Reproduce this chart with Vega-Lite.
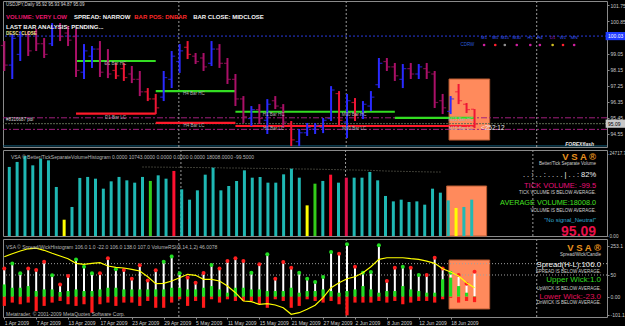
{
"$schema":"https://vega.github.io/schema/vega-lite/v6.json",
"background":"#000000",
"padding":0,
"spacing":3,
"bounds":"flush",
"config":{"view":{"stroke":"#8a8a8a","strokeWidth":1,"fill":"#000000"},"font":"Liberation Sans","axis":{"grid":false,"domain":false,"labelColor":"#c8c8c8","labelFontSize":5,"tickColor":"#8a8a8a","tickSize":2,"labelPadding":1}},
"resolve":{"scale":{"x":"independent","y":"independent","color":"independent","strokeDash":"independent"}},
"datasets":{"bars":[
{"i":0,"o":99.5,"h":99.75,"l":98.07,"c":98.4,"d":"dn","v":20720,"vc":"n","s":120,"u":52,"w":-39,"dc":"r","r":169.5},
{"i":1,"o":98.4,"h":100.15,"l":97.62,"c":99.9,"d":"up","v":22220,"vc":"n","s":141,"u":38,"w":-25,"dc":"g","r":182},
{"i":2,"o":99.0,"h":100.31,"l":98.63,"c":100.1,"d":"up","v":24020,"vc":"n","s":99,"u":38,"w":-32,"dc":"g","r":193.6},
{"i":3,"o":100.1,"h":100.31,"l":98.91,"c":99.2,"d":"dn","v":21200,"vc":"n","s":119,"u":45,"w":-25,"dc":"r","r":203},
{"i":4,"o":100.2,"h":100.43,"l":99.19,"c":99.6,"d":"dn","v":23210,"vc":"n","s":113,"u":24,"w":-61,"dc":"r","r":206},
{"i":5,"o":99.6,"h":99.92,"l":98.8,"c":99.0,"d":"dn","v":22700,"vc":"n","s":148,"u":31,"w":-39,"dc":"r","r":196.6},
{"i":6,"o":99.6,"h":100.76,"l":99.47,"c":100.5,"d":"up","v":14710,"vc":"n","s":91,"u":31,"w":-25,"dc":"g","r":184},
{"i":7,"o":100.5,"h":100.76,"l":99.75,"c":100.0,"d":"dn","v":4890,"vc":"y","s":52,"u":20,"w":-18,"dc":"r","r":172.5},
{"i":8,"o":100.2,"h":100.6,"l":99.47,"c":99.8,"d":"dn","v":8710,"vc":"n","s":88,"u":24,"w":-32,"dc":"r","r":161},
{"i":9,"o":100.0,"h":100.43,"l":97.73,"c":98.1,"d":"dn","v":17420,"vc":"n","s":158,"u":31,"w":-39,"dc":"g","r":141.5},
{"i":10,"o":98.0,"h":99.58,"l":97.62,"c":99.2,"d":"up","v":17720,"vc":"n","s":127,"u":24,"w":-32,"dc":"g","r":137.3},
{"i":11,"o":98.9,"h":99.47,"l":98.24,"c":99.3,"d":"up","v":17200,"vc":"n","s":99,"u":24,"w":-68,"dc":"g","r":141.5},
{"i":12,"o":99.3,"h":99.75,"l":97.73,"c":98.0,"d":"dn","v":14200,"vc":"n","s":99,"u":31,"w":-32,"dc":"r","r":144},
{"i":13,"o":98.5,"h":99.3,"l":97.67,"c":97.9,"d":"dn","v":16400,"vc":"n","s":163,"u":38,"w":-25,"dc":"r","r":130},
{"i":14,"o":98.1,"h":98.52,"l":97.62,"c":97.8,"d":"rd","v":17720,"vc":"n","s":116,"u":38,"w":-39,"dc":"g","r":124.6},
{"i":15,"o":98.2,"h":98.52,"l":97.51,"c":97.7,"d":"rd","v":16700,"vc":"n","s":113,"u":31,"w":-25,"dc":"r","r":121.6},
{"i":16,"o":97.9,"h":98.35,"l":97.39,"c":97.6,"d":"dn","v":16000,"vc":"n","s":76,"u":31,"w":-25,"dc":"r","r":116},
{"i":17,"o":97.6,"h":98.07,"l":96.66,"c":96.9,"d":"dn","v":17720,"vc":"n","s":133,"u":31,"w":-39,"dc":"r","r":109,"ma":20700},
{"i":18,"o":96.9,"h":97.11,"l":96.38,"c":96.5,"d":"rd","v":16520,"vc":"g","s":69,"u":31,"w":-18,"dc":"r","r":84.7,"ma":20700},
{"i":19,"o":96.5,"h":96.78,"l":95.65,"c":96.0,"d":"rd","v":18200,"vc":"n","s":112,"u":31,"w":-47,"dc":"r","r":55,"ma":20650},
{"i":20,"o":96.6,"h":98.07,"l":96.38,"c":97.7,"d":"up","v":17200,"vc":"n","s":148,"u":31,"w":-47,"dc":"g","r":56.8,"ma":20650},
{"i":21,"o":97.6,"h":99.19,"l":97.11,"c":98.9,"d":"up","v":19520,"vc":"r","s":170,"u":38,"w":-25,"dc":"g","r":66.5,"ma":20600},
{"i":22,"o":98.6,"h":99.58,"l":97.96,"c":99.2,"d":"up","v":14000,"vc":"n","s":99,"u":38,"w":-11,"dc":"g","r":80.5,"ma":20600},
{"i":23,"o":99.4,"h":99.75,"l":98.74,"c":99.0,"d":"rd","v":10900,"vc":"n","s":81,"u":31,"w":-39,"dc":"r","r":95,"ma":20550},
{"i":24,"o":98.9,"h":99.08,"l":98.46,"c":98.6,"d":"dn","v":13700,"vc":"n","s":59,"u":31,"w":-18,"dc":"r","r":90.7,"ma":20550},
{"i":25,"o":98.8,"h":99.08,"l":98.07,"c":98.3,"d":"dn","v":18400,"vc":"n","s":100,"u":38,"w":-47,"dc":"r","r":73.7,"ma":20500},
{"i":26,"o":98.5,"h":99.75,"l":98.35,"c":99.3,"d":"up","v":20500,"vc":"n","s":134,"u":45,"w":-11,"dc":"g","r":73.7,"ma":20500},
{"i":27,"o":99.3,"h":99.58,"l":98.24,"c":98.5,"d":"dn","v":13700,"vc":"n","s":120,"u":31,"w":-25,"dc":"r","r":66.5,"ma":20450},
{"i":28,"o":98.5,"h":98.8,"l":97.34,"c":97.6,"d":"dn","v":15000,"vc":"n","s":151,"u":17,"w":-11,"dc":"r","r":45.3,"ma":20400},
{"i":29,"o":97.6,"h":97.9,"l":96.1,"c":96.5,"d":"dn","v":16500,"vc":"n","s":163,"u":38,"w":-18,"dc":"r","r":17,"ma":20400},
{"i":30,"o":96.5,"h":96.66,"l":95.15,"c":95.5,"d":"dn","v":19700,"vc":"n","s":151,"u":38,"w":-18,"dc":"r","r":-18.2,"ma":20350},
{"i":31,"o":95.4,"h":96.1,"l":94.98,"c":95.9,"d":"up","v":17500,"vc":"n","s":102,"u":31,"w":-18,"dc":"g","r":-21.2,"ma":20300},
{"i":32,"o":95.9,"h":96.21,"l":95.09,"c":95.4,"d":"dn","v":17720,"vc":"n","s":137,"u":31,"w":-32,"dc":"r","r":-32.2,"ma":20300},
{"i":33,"o":95.3,"h":96.49,"l":94.53,"c":96.2,"d":"up","v":16000,"vc":"n","s":180,"u":24,"w":-47,"dc":"g","r":-29.7,"ma":20250},
{"i":34,"o":96.4,"h":96.66,"l":95.93,"c":96.1,"d":"dn","v":16000,"vc":"n","s":76,"u":24,"w":-11,"dc":"r","r":-35.2,"ma":20200},
{"i":35,"o":96.0,"h":96.21,"l":94.87,"c":95.2,"d":"dn","v":18500,"vc":"n","s":147,"u":24,"w":-18,"dc":"r","r":-46.6,"ma":20200},
{"i":36,"o":95.1,"h":95.26,"l":93.85,"c":94.2,"d":"rd","v":20200,"vc":"n","s":123,"u":38,"w":-47,"dc":"r","r":-74.6,"ma":20150},
{"i":37,"o":94.1,"h":94.81,"l":93.85,"c":94.6,"d":"up","v":17500,"vc":"n","s":102,"u":17,"w":-39,"dc":"g","r":-67.8,"ma":20100},
{"i":38,"o":94.6,"h":95.15,"l":94.42,"c":94.9,"d":"up","v":9190,"vc":"y","s":76,"u":24,"w":-11,"dc":"g","r":-53.4,"ma":20100},
{"i":39,"o":94.8,"h":95.15,"l":94.53,"c":95.0,"d":"up","v":15700,"vc":"g","s":62,"u":24,"w":-18,"dc":"g","r":-36.4,"ma":20050},
{"i":40,"o":94.9,"h":95.43,"l":94.58,"c":95.3,"d":"up","v":16520,"vc":"n","s":83,"u":31,"w":-25,"dc":"g","r":-4.2,"ma":20000},
{"i":41,"o":95.4,"h":97.22,"l":95.26,"c":97.0,"d":"up","v":18400,"vc":"r","s":189,"u":24,"w":-18,"dc":"g","r":38,"ma":19950},
{"i":42,"o":96.8,"h":96.94,"l":94.98,"c":95.3,"d":"rd","v":16000,"vc":"n","s":182,"u":17,"w":-32,"dc":"r","r":59.3,"ma":19900},
{"i":43,"o":95.2,"h":96.78,"l":94.3,"c":96.4,"d":"up","v":17500,"vc":"m","s":222,"u":24,"w":-79,"dc":"g","r":76.3,"ma":19850},
{"i":44,"o":96.3,"h":96.55,"l":95.26,"c":95.6,"d":"rd","v":17500,"vc":"n","s":127,"u":31,"w":-25,"dc":"r","r":84.7,"ma":19800},
{"i":45,"o":95.6,"h":96.38,"l":95.37,"c":96.2,"d":"up","v":17500,"vc":"n","s":102,"u":45,"w":-25,"dc":"g","r":101.7,"ma":19750},
{"i":46,"o":96.1,"h":96.94,"l":95.82,"c":96.6,"d":"up","v":19220,"vc":"n","s":105,"u":31,"w":-25,"dc":"g","r":127,"ma":19700},
{"i":47,"o":97.3,"h":98.8,"l":97.11,"c":98.5,"d":"up","v":16700,"vc":"n","s":218,"u":17,"w":-18,"dc":"g","r":158.5,"ma":19600},
{"i":48,"o":98.6,"h":98.8,"l":98.07,"c":98.3,"d":"dn","v":12010,"vc":"n","s":67,"u":24,"w":-25,"dc":"r","r":165,"ma":19500},
{"i":49,"o":98.3,"h":98.52,"l":97.51,"c":97.8,"d":"dn","v":10390,"vc":"n","s":123,"u":24,"w":-18,"dc":"r","r":165,"ma":19450},
{"i":50,"o":97.6,"h":98.46,"l":97.11,"c":98.2,"d":"up","v":10900,"vc":"n","s":127,"u":45,"w":-32,"dc":"g","r":165,"ma":19400},
{"i":51,"o":98.2,"h":98.52,"l":97.62,"c":97.9,"d":"dn","v":10210,"vc":"n","s":123,"u":31,"w":-25,"dc":"r","r":161,"ma":19350},
{"i":52,"o":97.9,"h":98.46,"l":97.62,"c":98.3,"d":"up","v":10390,"vc":"n","s":92,"u":24,"w":-18,"dc":"g","r":158.5,"ma":19300},
{"i":53,"o":98.2,"h":98.52,"l":97.62,"c":98.0,"d":"dn","v":9400,"vc":"n","s":92,"u":17,"w":-18,"dc":"r","r":151,"ma":19250},
{"i":54,"o":97.9,"h":98.07,"l":95.99,"c":96.3,"d":"dn","v":14200,"vc":"n","s":165,"u":17,"w":-25,"dc":"r","r":141.5,"ma":19200},
{"i":55,"o":96.4,"h":96.78,"l":95.65,"c":96.0,"d":"dn","v":13000,"vc":"n","s":120,"u":74,"w":-11,"dc":"r","r":118.6,"ma":19200},
{"i":56,"o":95.8,"h":96.66,"l":95.65,"c":96.5,"d":"up","v":10690,"vc":"n","s":102,"u":81,"w":-5,"dc":"g","r":104.7},
{"i":57,"o":96.9,"h":97.34,"l":96.21,"c":96.4,"d":"rd","v":8410,"vc":"y","s":92,"u":45,"w":-25,"dc":"r","r":87.7},
{"i":58,"o":96.2,"h":96.27,"l":95.71,"c":95.9,"d":"rd","v":8710,"vc":"n","s":55,"u":17,"w":-18,"dc":"r","r":59.3},
{"i":59,"o":95.92,"h":95.93,"l":94.87,"c":95.09,"d":"rd","v":10900,"vc":"n","s":106,"u":2,"w":-23,"dc":"r","r":38}
]},
"vconcat":[
{"width":604,"height":146,"resolve":{"scale":{"color":"independent","strokeDash":"independent"},"axis":{"x":"independent","y":"independent"}},
"layer":[
{"data":{"values":[{}]},"mark":{"type":"rect","fill":"#ff8a5c","stroke":"#b85a30","strokeWidth":1},"encoding":{"x":{"datum":55.8,"type":"quantitative","scale":{"domain":[-0.163,75.62],"nice":false,"zero":false},"axis":null},"x2":{"datum":60.9},"y":{"datum":97.62,"type":"quantitative","scale":{"domain":[93.8,102],"nice":false,"zero":false},"axis":null},"y2":{"datum":94.19}}},
{"data":{"values":[{"k":"pd","p":95.44},{"k":"pd","p":94.79},{"k":"bid","p":95.11},{"k":"blue","p":100.03},{"k":"teal","p":93.86}]},"mark":{"type":"rule","strokeWidth":1},"encoding":{"y":{"field":"p","type":"quantitative","scale":{"domain":[93.8,102],"nice":false,"zero":false},"axis":null},"color":{"field":"k","type":"nominal","scale":{"domain":["pd","bid","blue","teal"],"range":["#a0207c","#5c6a52","#2a3ae0","#14607e"]},"legend":null},"strokeDash":{"field":"k","type":"nominal","scale":{"domain":["pd","bid","blue","teal"],"range":[[6,2,2,2],[2,1],[2,2],[1,0]]},"legend":null}}},
{"data":{"values":[{"x":21.9},{"x":42.9},{"x":66.8}]},"mark":{"type":"rule","color":"#9a9a9a","strokeDash":[2,2],"strokeWidth":1},"encoding":{"x":{"field":"x","type":"quantitative","scale":{"domain":[-0.163,75.62],"nice":false,"zero":false},"axis":null}}},
{"data":{"values":[{"k":"hc","a":9,"b":19,"p":98.63},{"k":"lc","a":9,"b":19,"p":95.67},{"k":"hc","a":19,"b":29,"p":96.94},{"k":"lc","a":19,"b":29,"p":95.16},{"k":"hc","a":29,"b":49,"p":95.78},{"k":"lc","a":29,"b":59,"p":94.98},{"k":"hc","a":49,"b":59,"p":95.44}]},"mark":{"type":"rule","strokeWidth":2.2},"encoding":{"x":{"field":"a","type":"quantitative","scale":{"domain":[-0.163,75.62],"nice":false,"zero":false},"axis":null},"x2":{"field":"b"},"y":{"field":"p","type":"quantitative","scale":{"domain":[93.8,102],"nice":false,"zero":false},"axis":null},"color":{"field":"k","type":"nominal","scale":{"domain":["hc","lc"],"range":["#33dd22","#ff1a2a"]},"legend":null}}},
{"data":{"name":"bars"},"mark":{"type":"rule","strokeWidth":2},"encoding":{"x":{"field":"i","type":"quantitative","scale":{"domain":[-0.163,75.62],"nice":false,"zero":false},"axis":null},"y":{"field":"l","type":"quantitative","scale":{"domain":[93.8,102],"nice":false,"zero":false},"axis":{"orient":"right","values":[101.75,100.85,99.05,98.15,97.25,96.35,95.45,94.55],"format":".2f","labelFontSize":5,"tickSize":2,"labelPadding":1,"labelColor":"#c8c8c8","tickColor":"#8a8a8a","domain":false,"grid":false,"title":null}},"y2":{"field":"h"},"color":{"field":"d","type":"nominal","scale":{"domain":["up","dn","rd"],"range":["#2a2aff","#aa1068","#ee1535"]},"legend":null}}},
{"data":{"name":"bars"},"mark":{"type":"tick","orient":"horizontal","size":3,"thickness":1.2,"xOffset":-2},"encoding":{"x":{"field":"i","type":"quantitative","scale":{"domain":[-0.163,75.62],"nice":false,"zero":false},"axis":null},"y":{"field":"o","type":"quantitative","scale":{"domain":[93.8,102],"nice":false,"zero":false},"axis":null},"color":{"field":"d","type":"nominal","scale":{"domain":["up","dn","rd"],"range":["#2a2aff","#aa1068","#ee1535"]},"legend":null}}},
{"data":{"name":"bars"},"mark":{"type":"tick","orient":"horizontal","size":3,"thickness":1.2,"xOffset":2},"encoding":{"x":{"field":"i","type":"quantitative","scale":{"domain":[-0.163,75.62],"nice":false,"zero":false},"axis":null},"y":{"field":"c","type":"quantitative","scale":{"domain":[93.8,102],"nice":false,"zero":false},"axis":null},"color":{"field":"d","type":"nominal","scale":{"domain":["up","dn","rd"],"range":["#2a2aff","#aa1068","#ee1535"]},"legend":null}}},
{"data":{"values":[{"x":13.95,"y":98.44,"t":"D1 Bar HC"},{"x":13.95,"y":95.44,"t":"D1 Bar LC"},{"x":23.8,"y":96.76,"t":"H4 Bar HC"},{"x":23.8,"y":94.98,"t":"H4 Bar LC"},{"x":33.8,"y":95.6,"t":"H1 Bar HC"},{"x":33.8,"y":94.83,"t":"H1 Bar LC"},{"x":43.9,"y":95.6,"t":"M30 Bar HC"},{"x":43.9,"y":94.83,"t":"M30 Bar LC"},{"x":57.3,"y":95.3,"t":"M15 Bar HC"},{"x":57.3,"y":94.79,"t":"M15 Bar LC"}]},"mark":{"type":"text","fontSize":4.5,"color":"#b0b0b0","align":"center","baseline":"middle"},"encoding":{"x":{"field":"x","type":"quantitative","scale":{"domain":[-0.163,75.62],"nice":false,"zero":false},"axis":null},"y":{"field":"y","type":"quantitative","scale":{"domain":[93.8,102],"nice":false,"zero":false},"axis":null},"text":{"field":"t"}}},
{"data":{"values":[{"x":0.21,"y":101.78,"t":"USDJPY,Daily  95.92 95.93 94.87 95.09"},{"x":0.21,"y":95.3,"t":"#8316687 pdl"}]},"mark":{"type":"text","fontSize":4.5,"color":"#d8d8d8","align":"left","baseline":"middle"},"encoding":{"x":{"field":"x","type":"quantitative","scale":{"domain":[-0.163,75.62],"nice":false,"zero":false},"axis":null},"y":{"field":"y","type":"quantitative","scale":{"domain":[93.8,102],"nice":false,"zero":false},"axis":null},"text":{"field":"t"}}},
{"data":{"values":[{"x":0.21,"y":101.1,"t":"VOLUME: VERY LOW","s":"m"},{"x":8.75,"y":101.1,"t":"SPREAD: NARROW","s":"w"},{"x":16.3,"y":101.1,"t":"BAR POS: DNBAR","s":"r"},{"x":23.7,"y":101.1,"t":"BAR CLOSE: MIDCLOSE","s":"w"},{"x":0.21,"y":100.54,"t":"LAST BAR ANALYSIS: PENDING...","s":"w"}]},"mark":{"type":"text","fontSize":6,"fontWeight":"bold","align":"left","baseline":"middle"},"encoding":{"x":{"field":"x","type":"quantitative","scale":{"domain":[-0.163,75.62],"nice":false,"zero":false},"axis":null},"y":{"field":"y","type":"quantitative","scale":{"domain":[93.8,102],"nice":false,"zero":false},"axis":null},"text":{"field":"t"},"color":{"field":"s","type":"nominal","scale":{"domain":["m","w","r"],"range":["#e8186e","#f4f4f4","#ff2a2a"]},"legend":null}}},
{"data":{"values":[{}]},"mark":{"type":"text","fontSize":4.5,"fontWeight":"bold","color":"#f0e890","align":"left","baseline":"middle","text":"DESC: CLOSE"},"encoding":{"x":{"datum":0.21,"type":"quantitative","scale":{"domain":[-0.163,75.62],"nice":false,"zero":false},"axis":null},"y":{"datum":100.15,"type":"quantitative","scale":{"domain":[93.8,102],"nice":false,"zero":false},"axis":null}}},
{"data":{"values":[{}]},"mark":{"type":"text","fontSize":6.5,"color":"#e8e8e8","align":"left","baseline":"middle","text":"<252:12"},"encoding":{"x":{"datum":59.8,"type":"quantitative","scale":{"domain":[-0.163,75.62],"nice":false,"zero":false},"axis":null},"y":{"datum":94.85,"type":"quantitative","scale":{"domain":[93.8,102],"nice":false,"zero":false},"axis":null}}},
{"data":{"values":[{"x":60.2,"t":"M1","s":"b"},{"x":61.6,"t":"M5","s":"b"},{"x":62.8,"t":"M15","s":"b"},{"x":64.3,"t":"M30","s":"b"},{"x":66.0,"t":"H1","s":"b"},{"x":67.2,"t":"H4","s":"b"},{"x":68.8,"t":"D1","s":"m"},{"x":70.1,"t":"W1","s":"b"},{"x":71.5,"t":"MN","s":"b"}]},"mark":{"type":"text","fontSize":4.3,"align":"center","baseline":"middle"},"encoding":{"x":{"field":"x","type":"quantitative","scale":{"domain":[-0.163,75.62],"nice":false,"zero":false},"axis":null},"y":{"datum":99.92,"type":"quantitative","scale":{"domain":[93.8,102],"nice":false,"zero":false},"axis":null},"text":{"field":"t"},"color":{"field":"s","type":"nominal","scale":{"domain":["b","m"],"range":["#3a5cff","#a020c0"]},"legend":null}}},
{"data":{"values":[{"x":60.2,"s":"m"},{"x":61.6,"s":"r"},{"x":62.8,"s":"g"},{"x":64.3,"s":"m"},{"x":66.0,"s":"m"},{"x":67.2,"s":"m"},{"x":68.8,"s":"y"},{"x":70.1,"s":"r"},{"x":71.5,"s":"m"}]},"mark":{"type":"point","filled":true,"size":7,"opacity":1},"encoding":{"x":{"field":"x","type":"quantitative","scale":{"domain":[-0.163,75.62],"nice":false,"zero":false},"axis":null},"y":{"datum":99.53,"type":"quantitative","scale":{"domain":[93.8,102],"nice":false,"zero":false},"axis":null},"color":{"field":"s","type":"nominal","scale":{"domain":["m","r","g","y"],"range":["#d020a0","#ff2030","#909090","#d0c020"]},"legend":null}}},
{"data":{"values":[{}]},"mark":{"type":"text","fontSize":4.5,"color":"#2a5ad8","align":"center","baseline":"middle","text":"CDRW"},"encoding":{"x":{"datum":58.1,"type":"quantitative","scale":{"domain":[-0.163,75.62],"nice":false,"zero":false},"axis":null},"y":{"datum":99.53,"type":"quantitative","scale":{"domain":[93.8,102],"nice":false,"zero":false},"axis":null}}},
{"data":{"values":[{}]},"mark":{"type":"text","fontSize":5,"fontStyle":"italic","fontWeight":"bold","color":"#e8e8e8","align":"right","baseline":"middle","text":"FOREXflash"},"encoding":{"x":{"datum":74.0,"type":"quantitative","scale":{"domain":[-0.163,75.62],"nice":false,"zero":false},"axis":null},"y":{"datum":93.97,"type":"quantitative","scale":{"domain":[93.8,102],"nice":false,"zero":false},"axis":null}}},
{"data":{"values":[{"k":"b","a":100.26,"b":99.8},{"k":"g","a":95.34,"b":94.88}]},"mark":{"type":"rect"},"encoding":{"x":{"datum":75.45,"type":"quantitative","scale":{"domain":[-0.163,75.62],"nice":false,"zero":false},"axis":null},"x2":{"datum":78.3},"y":{"field":"a","type":"quantitative","scale":{"domain":[93.8,102],"nice":false,"zero":false},"axis":null},"y2":{"field":"b"},"color":{"field":"k","type":"nominal","scale":{"domain":["b","g"],"range":["#1f3cff","#c8c8c8"]},"legend":null}}},
{"data":{"values":[{"k":"b","p":100.03,"t":"100.03"},{"k":"g","p":95.11,"t":"95.09"}]},"mark":{"type":"text","fontSize":5,"align":"left","baseline":"middle"},"encoding":{"x":{"datum":75.75,"type":"quantitative","scale":{"domain":[-0.163,75.62],"nice":false,"zero":false},"axis":null},"y":{"field":"p","type":"quantitative","scale":{"domain":[93.8,102],"nice":false,"zero":false},"axis":null},"text":{"field":"t"},"color":{"field":"k","type":"nominal","scale":{"domain":["b","g"],"range":["#ffffff","#000000"]},"legend":null}}}
]},
{"width":604,"height":86,"resolve":{"scale":{"color":"independent"},"axis":{"x":"independent","y":"independent"}},
"layer":[
{"data":{"values":[{}]},"mark":{"type":"rect","fill":"#ff8a5c","stroke":"#b85a30","strokeWidth":1},"encoding":{"x":{"datum":55.8,"type":"quantitative","scale":{"domain":[-0.163,75.62],"nice":false,"zero":false},"axis":null},"x2":{"datum":60.9},"y":{"datum":15000,"type":"quantitative","scale":{"domain":[0,25800],"nice":false,"zero":false},"axis":null},"y2":{"datum":0}}},
{"data":{"values":[{"x":21.9},{"x":42.9},{"x":66.8}]},"mark":{"type":"rule","color":"#9a9a9a","strokeDash":[2,2],"strokeWidth":1},"encoding":{"x":{"field":"x","type":"quantitative","scale":{"domain":[-0.163,75.62],"nice":false,"zero":false},"axis":null}}},
{"data":{"name":"bars"},"mark":{"type":"line","color":"#7a7a6a","strokeWidth":1,"strokeDash":[1,2]},"encoding":{"x":{"field":"i","type":"quantitative","scale":{"domain":[-0.163,75.62],"nice":false,"zero":false},"axis":null},"y":{"field":"ma","type":"quantitative","scale":{"domain":[0,25800],"nice":false,"zero":false},"axis":null}}},
{"data":{"name":"bars"},"mark":{"type":"bar","size":3},"encoding":{"x":{"field":"i","type":"quantitative","scale":{"domain":[-0.163,75.62],"nice":false,"zero":false},"axis":null},"y":{"field":"v","type":"quantitative","scale":{"domain":[0,25800],"nice":false,"zero":false},"axis":{"orient":"right","values":[24717.7,0],"labelExpr":"datum.value == 0 ? '0.00' : '24717.7'","labelFontSize":4.6,"tickSize":1,"labelPadding":1,"labelColor":"#c8c8c8","tickColor":"#8a8a8a","domain":false,"grid":false,"title":null}},"color":{"field":"vc","type":"nominal","scale":{"domain":["n","y","g","r","m"],"range":["#1fb8b4","#ffff00","#33cc1a","#ff1030","#e0104a"]},"legend":null}}},
{"data":{"values":[{}]},"mark":{"type":"text","fontSize":5,"color":"#b8b8b8","align":"left","baseline":"middle","text":"VSA © Better/TickSeparateVolumeHistogram 0.0000 10743.0000 0.0000 0.0000 0.0000 18008.0000 -99.5000"},"encoding":{"x":{"datum":0.21,"type":"quantitative","scale":{"domain":[-0.163,75.62],"nice":false,"zero":false},"axis":null},"y":{"datum":23700,"type":"quantitative","scale":{"domain":[0,25800],"nice":false,"zero":false},"axis":null}}},
{"data":{"values":[{}]},"mark":{"type":"text","fontSize":9.5,"fontWeight":"bold","color":"#e8921e","align":"right","baseline":"middle","text":"V S A ®"},"encoding":{"x":{"datum":74.87,"type":"quantitative","scale":{"domain":[-0.163,75.62],"nice":false,"zero":false},"axis":null},"y":{"datum":23600,"type":"quantitative","scale":{"domain":[0,25800],"nice":false,"zero":false},"axis":null}}},
{"data":{"values":[{"y":21600,"t":"Better/Tick Separate Volume"},{"y":12800,"t":"TICK VOLUME IS BELOW AVERAGE."},{"y":7600,"t":"VOLUME IS BELOW AVERAGE."}]},"mark":{"type":"text","fontSize":4.5,"color":"#d0d0d0","align":"right","baseline":"middle"},"encoding":{"x":{"datum":74.87,"type":"quantitative","scale":{"domain":[-0.163,75.62],"nice":false,"zero":false},"axis":null},"y":{"field":"y","type":"quantitative","scale":{"domain":[0,25800],"nice":false,"zero":false},"axis":null},"text":{"field":"t"}}},
{"data":{"values":[{}]},"mark":{"type":"text","fontSize":7.5,"color":"#f0f0f0","align":"right","baseline":"middle","text":". . : . . : . . . . | . . :  82%"},"encoding":{"x":{"datum":74.87,"type":"quantitative","scale":{"domain":[-0.163,75.62],"nice":false,"zero":false},"axis":null},"y":{"datum":18300,"type":"quantitative","scale":{"domain":[0,25800],"nice":false,"zero":false},"axis":null}}},
{"data":{"values":[{}]},"mark":{"type":"text","fontSize":7.5,"color":"#e8107a","align":"right","baseline":"middle","text":"TICK VOLUME: -99.5"},"encoding":{"x":{"datum":74.87,"type":"quantitative","scale":{"domain":[-0.163,75.62],"nice":false,"zero":false},"axis":null},"y":{"datum":15000,"type":"quantitative","scale":{"domain":[0,25800],"nice":false,"zero":false},"axis":null}}},
{"data":{"values":[{}]},"mark":{"type":"text","fontSize":7.3,"color":"#44e020","align":"right","baseline":"middle","text":"AVERAGE VOLUME:18008.0"},"encoding":{"x":{"datum":74.87,"type":"quantitative","scale":{"domain":[-0.163,75.62],"nice":false,"zero":false},"axis":null},"y":{"datum":9900,"type":"quantitative","scale":{"domain":[0,25800],"nice":false,"zero":false},"axis":null}}},
{"data":{"values":[{}]},"mark":{"type":"text","fontSize":6,"color":"#30a8d0","align":"right","baseline":"middle","text":"\"No signal_Neutral\""},"encoding":{"x":{"datum":74.87,"type":"quantitative","scale":{"domain":[-0.163,75.62],"nice":false,"zero":false},"axis":null},"y":{"datum":4800,"type":"quantitative","scale":{"domain":[0,25800],"nice":false,"zero":false},"axis":null}}},
{"data":{"values":[{}]},"mark":{"type":"text","fontSize":14,"fontWeight":"bold","color":"#e8104a","align":"right","baseline":"middle","text":"95.09"},"encoding":{"x":{"datum":74.87,"type":"quantitative","scale":{"domain":[-0.163,75.62],"nice":false,"zero":false},"axis":null},"y":{"datum":1200,"type":"quantitative","scale":{"domain":[0,25800],"nice":false,"zero":false},"axis":null}}}
]},
{"width":604,"height":78,"resolve":{"scale":{"color":"independent"},"axis":{"x":"independent","y":"independent"}},
"layer":[
{"data":{"values":[{}]},"mark":{"type":"rect","fill":"#ff8a5c","stroke":"#b85a30","strokeWidth":1},"encoding":{"x":{"datum":55.8,"type":"quantitative","scale":{"domain":[-0.163,75.62],"nice":false,"zero":false},"axis":null},"x2":{"datum":60.9},"y":{"datum":155.5,"type":"quantitative","scale":{"domain":[-86,244.5],"nice":false,"zero":false},"axis":null},"y2":{"datum":-52}}},
{"data":{"values":[{"p":92},{"p":140}]},"mark":{"type":"rule","color":"#a0a0a0","strokeDash":[1,2],"strokeWidth":1},"encoding":{"y":{"field":"p","type":"quantitative","scale":{"domain":[-86,244.5],"nice":false,"zero":false},"axis":null}}},
{"data":{"values":[{"x":21.9},{"x":42.9},{"x":66.8}]},"mark":{"type":"rule","color":"#9a9a9a","strokeDash":[2,2],"strokeWidth":1},"encoding":{"x":{"field":"x","type":"quantitative","scale":{"domain":[-0.163,75.62],"nice":false,"zero":false},"axis":null}}},
{"data":{"name":"bars"},"mark":{"type":"rule","color":"#ffffff","strokeWidth":2},"encoding":{"x":{"field":"i","type":"quantitative","scale":{"domain":[-0.163,75.62],"nice":false,"zero":false},"axis":{"orient":"bottom","values":[0,4,8,12,16,20,24,28,32,36,40,44,48,52,56],"labelExpr":"['1 Apr 2009','7 Apr 2009','13 Apr 2009','17 Apr 2009','23 Apr 2009','29 Apr 2009','5 May 2009','11 May 2009','15 May 2009','21 May 2009','27 May 2009','2 Jun 2009','8 Jun 2009','12 Jun 2009','18 Jun 2009'][round(datum.value/4)]","labelAlign":"left","labelFontSize":5,"labelColor":"#d0d0d0","tickSize":2,"tickColor":"#8a8a8a","labelPadding":1,"labelOverlap":false,"labelBound":false,"labelFlush":false,"domain":false,"grid":false,"title":null}},"y":{"field":"s","type":"quantitative","scale":{"domain":[-86,244.5],"nice":false,"zero":false},"axis":{"orient":"right","values":[215,92,0,-77.5],"labelExpr":"datum.value > 200 ? '253.1' : datum.value > 50 ? '50' : datum.value == 0 ? '0.00' : '-101.1'","labelFontSize":5,"tickSize":2,"labelPadding":1,"labelColor":"#c8c8c8","tickColor":"#8a8a8a","domain":false,"grid":false,"title":null}},"y2":{"datum":0}}},
{"data":{"name":"bars"},"mark":{"type":"rule","color":"#22dd22","strokeWidth":3.2},"encoding":{"x":{"field":"i","type":"quantitative","scale":{"domain":[-0.163,75.62],"nice":false,"zero":false},"axis":null},"y":{"field":"u","type":"quantitative","scale":{"domain":[-86,244.5],"nice":false,"zero":false},"axis":null},"y2":{"datum":0}}},
{"data":{"name":"bars"},"mark":{"type":"rule","color":"#ff1a1a","strokeWidth":3.2},"encoding":{"x":{"field":"i","type":"quantitative","scale":{"domain":[-0.163,75.62],"nice":false,"zero":false},"axis":null},"y":{"field":"w","type":"quantitative","scale":{"domain":[-86,244.5],"nice":false,"zero":false},"axis":null},"y2":{"datum":0}}},
{"data":{"name":"bars"},"mark":{"type":"point","filled":true,"size":16,"opacity":1},"encoding":{"x":{"field":"i","type":"quantitative","scale":{"domain":[-0.163,75.62],"nice":false,"zero":false},"axis":null},"y":{"field":"s","type":"quantitative","scale":{"domain":[-86,244.5],"nice":false,"zero":false},"axis":null},"color":{"field":"dc","type":"nominal","scale":{"domain":["r","g"],"range":["#ff2020","#22dd22"]},"legend":null}}},
{"data":{"name":"bars"},"mark":{"type":"line","color":"#ffff00","strokeWidth":1.2},"encoding":{"x":{"field":"i","type":"quantitative","scale":{"domain":[-0.163,75.62],"nice":false,"zero":false},"axis":null},"y":{"field":"r","type":"quantitative","scale":{"domain":[-86,244.5],"nice":false,"zero":false},"axis":null}}},
{"data":{"values":[{"y":212,"t":"VSA © Spread/WickHistogram 106.0 1.0 -22.0 106.0 138.0 107.0  VolumeRSI(3,14,1,2) 46.0078"},{"y":-74.6,"t":"Metatrader, © 2001-2009 MetaQuotes Software Corp."}]},"mark":{"type":"text","fontSize":5,"color":"#b8b8b8","align":"left","baseline":"middle"},"encoding":{"x":{"datum":0.21,"type":"quantitative","scale":{"domain":[-0.163,75.62],"nice":false,"zero":false},"axis":null},"y":{"field":"y","type":"quantitative","scale":{"domain":[-86,244.5],"nice":false,"zero":false},"axis":null},"text":{"field":"t"}}},
{"data":{"values":[{}]},"mark":{"type":"text","fontSize":9.5,"fontWeight":"bold","color":"#e8921e","align":"right","baseline":"middle","text":"V S A ®"},"encoding":{"x":{"datum":74.87,"type":"quantitative","scale":{"domain":[-0.163,75.62],"nice":false,"zero":false},"axis":null},"y":{"datum":208,"type":"quantitative","scale":{"domain":[-86,244.5],"nice":false,"zero":false},"axis":null}}},
{"data":{"values":[{"y":177,"t":"Spread/Wick/Candle"},{"y":105,"t":"SPREAD IS BELOW AVERAGE."},{"y":34,"t":"UpWICK IS BELOW AVERAGE."},{"y":-27,"t":"DnWICK IS BELOW AVERAGE."}]},"mark":{"type":"text","fontSize":4.5,"color":"#d0d0d0","align":"right","baseline":"middle"},"encoding":{"x":{"datum":74.87,"type":"quantitative","scale":{"domain":[-0.163,75.62],"nice":false,"zero":false},"axis":null},"y":{"field":"y","type":"quantitative","scale":{"domain":[-86,244.5],"nice":false,"zero":false},"axis":null},"text":{"field":"t"}}},
{"data":{"values":[{}]},"mark":{"type":"text","fontSize":7.8,"color":"#f4f4f4","align":"right","baseline":"middle","text":"Spread(H-L):106.0"},"encoding":{"x":{"datum":74.87,"type":"quantitative","scale":{"domain":[-0.163,75.62],"nice":false,"zero":false},"axis":null},"y":{"datum":133,"type":"quantitative","scale":{"domain":[-86,244.5],"nice":false,"zero":false},"axis":null}}},
{"data":{"values":[{}]},"mark":{"type":"text","fontSize":8,"color":"#33dd22","align":"right","baseline":"middle","text":"Upper Wick:1.0"},"encoding":{"x":{"datum":74.87,"type":"quantitative","scale":{"domain":[-0.163,75.62],"nice":false,"zero":false},"axis":null},"y":{"datum":69.5,"type":"quantitative","scale":{"domain":[-86,244.5],"nice":false,"zero":false},"axis":null}}},
{"data":{"values":[{}]},"mark":{"type":"text","fontSize":8,"color":"#e0105a","align":"right","baseline":"middle","text":"Lower Wick:-23.0"},"encoding":{"x":{"datum":74.87,"type":"quantitative","scale":{"domain":[-0.163,75.62],"nice":false,"zero":false},"axis":null},"y":{"datum":0,"type":"quantitative","scale":{"domain":[-86,244.5],"nice":false,"zero":false},"axis":null}}}
]}
]
}
